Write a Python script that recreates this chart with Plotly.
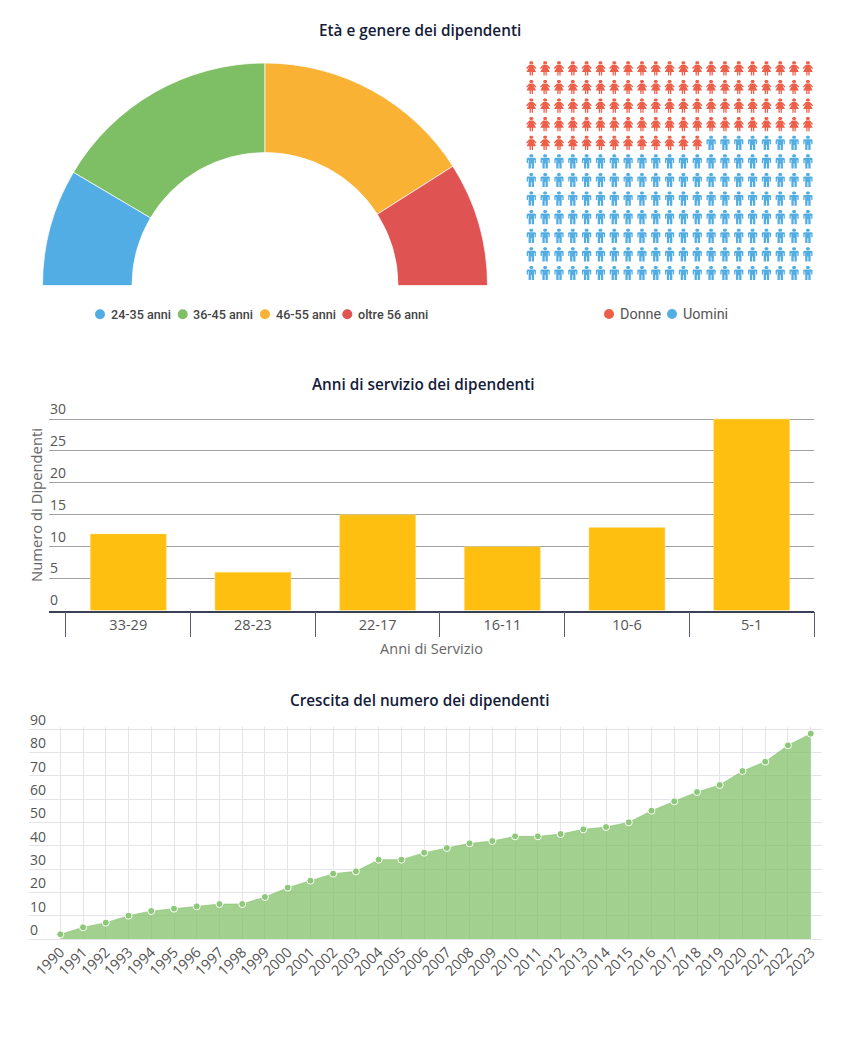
import plotly.graph_objects as go

W, H = 848, 1040

# ---------- data ----------
age_labels = ["24-35 anni", "36-45 anni", "46-55 anni", "oltre 56 anni"]
age_values = [17, 33, 32, 18]
age_colors = ["#52ADE5", "#7EBE64", "#F9B233", "#DF5353"]

gender_labels = ["Donne", "Uomini"]
gender_counts = [97, 155]
gender_colors = ["#EE5F4A", "#52ADE2"]
waffle_columns = 21

service_labels = ["33-29", "28-23", "22-17", "16-11", "10-6", "5-1"]
service_values = [12, 6, 15, 10, 13, 30]

growth_years = list(range(1990, 2024))
growth_values = [2, 5, 7, 10, 12, 13, 14, 15, 15, 18, 22, 25, 28, 29, 34, 34, 37,
                 39, 41, 42, 44, 44, 45, 47, 48, 50, 55, 59, 63, 66, 72, 76, 83, 88]

y_ticks_service = [0, 5, 10, 15, 20, 25, 30]
y_ticks_growth = [0, 10, 20, 30, 40, 50, 60, 70, 80, 90]

# ---------- helpers ----------
def dx(a, b):
    return [a / W, b / W]

def dy(top, bottom):
    return [1 - bottom / H, 1 - top / H]

def tick_text(vals):
    # figure space keeps one-digit labels flush left with the two-digit ones
    return [str(v) if v >= 10 else str(v) + "\u2007" for v in vals]

HEAD = [(-1.0, 7.0), (1.0, 7.0), (2.0, 6.0), (2.0, 5.0), (1.0, 4.0), (-1.0, 4.0), (-2.0, 5.0), (-2.0, 6.0)]
MAN = [(-4.6, 2.9), (-3.4, 3.5), (3.4, 3.5), (4.6, 2.9), (4.6, -1.6), (3.3, -1.6), (3.3, 1.4), (2.7, 1.4),
       (2.7, -7.2), (0.4, -7.2), (0.4, -2.2), (-0.4, -2.2), (-0.4, -7.2), (-2.7, -7.2), (-2.7, 1.4),
       (-3.3, 1.4), (-3.3, -1.6), (-4.6, -1.6)]
WOMAN = [(-2.0, 3.5), (2.0, 3.5), (5.2, 0.2), (4.2, -0.7), (2.1, 1.3), (4.8, -3.6), (1.7, -3.6), (1.7, -7.2),
         (0.4, -7.2), (0.4, -3.6), (-0.4, -3.6), (-0.4, -7.2), (-1.7, -7.2), (-1.7, -3.6), (-4.8, -3.6),
         (-2.1, 1.3), (-4.2, -0.7), (-5.2, 0.2)]
PITCH_X, PITCH_Y = 13.83, 18.6

def icons(start, count, body):
    xs, ys = [], []
    for i in range(start, start + count):
        row, col = divmod(i, waffle_columns)
        for shape in (HEAD, body):
            for px, py in shape + shape[:1]:
                xs.append(col + px / PITCH_X)
                ys.append(row - py / PITCH_Y)
            xs.append(None)
            ys.append(None)
    return xs, ys

fig = go.Figure()

# ---------- half doughnut ----------
cx, cy, r = 265, 285.5, 222.5
fig.add_trace(go.Pie(
    labels=age_labels + [""],
    values=age_values + [sum(age_values)],
    marker=dict(colors=age_colors + ["rgba(0,0,0,0)"],
                line=dict(color=["#ffffff"] * 4 + ["rgba(0,0,0,0)"], width=0.7)),
    hole=133 / 222.5, rotation=270, direction="clockwise", sort=False,
    textinfo="none", hoverinfo="skip", showlegend=False,
    domain=dict(x=dx(cx - r, cx + r), y=dy(cy - r, cy + r)),
))

# ---------- waffle ----------
xw, yw = icons(0, gender_counts[0], WOMAN)
fig.add_trace(go.Scatter(x=xw, y=yw, mode="lines", fill="toself", fillcolor=gender_colors[0],
                         line=dict(width=0, color=gender_colors[0]), xaxis="x3", yaxis="y3",
                         showlegend=False, hoverinfo="skip"))
xm, ym = icons(gender_counts[0], gender_counts[1], MAN)
fig.add_trace(go.Scatter(x=xm, y=ym, mode="lines", fill="toself", fillcolor=gender_colors[1],
                         line=dict(width=0, color=gender_colors[1]), xaxis="x3", yaxis="y3",
                         showlegend=False, hoverinfo="skip"))

# ---------- bars ----------
fig.add_trace(go.Bar(x=service_labels, y=service_values, width=0.61, xaxis="x", yaxis="y",
                     marker=dict(color="#FFBF10", line=dict(color="#FFE08A", width=0.5)),
                     showlegend=False))

# ---------- area ----------
fig.add_trace(go.Scatter(x=growth_years, y=growth_values, mode="lines+markers", fill="tozeroy",
                         fillcolor="rgba(126,190,100,0.72)",
                         line=dict(color="rgba(126,190,100,0.5)", width=1),
                         marker=dict(color="#8CC878", size=7, line=dict(color="#ffffff", width=1)),
                         xaxis="x2", yaxis="y2", showlegend=False))

# ---------- custom legends on a page-sized overlay axis ----------
legend_xs = [100, 182.7, 265, 347.3]
for lab, col, x0 in zip(age_labels, age_colors, legend_xs):
    fig.add_trace(go.Scatter(x=[x0], y=[314.3], mode="markers", marker=dict(color=col, size=10),
                             xaxis="x4", yaxis="y4", showlegend=False, hoverinfo="skip"))
    fig.add_annotation(x=(x0 + 8.6) / W, y=1 - 314.3 / H, xref="paper", yref="paper", text=lab,
                       showarrow=False, xanchor="left", yanchor="middle",
                       font=dict(family="Roboto", size=12.6, color="#444444", weight=500))
for lab, col, x0 in zip(gender_labels, gender_colors, [609, 672]):
    fig.add_trace(go.Scatter(x=[x0], y=[314], mode="markers", marker=dict(color=col, size=10),
                             xaxis="x4", yaxis="y4", showlegend=False, hoverinfo="skip"))
    fig.add_annotation(x=(x0 + 9) / W, y=1 - 314 / H, xref="paper", yref="paper", text=lab,
                       showarrow=False, xanchor="left", yanchor="middle",
                       font=dict(family="Roboto", size=14.4, color="#555555", weight=400))

# ---------- titles ----------
for text, x0, y0 in [("Età e genere dei dipendenti", 420, 30),
                     ("Anni di servizio dei dipendenti", 423, 384),
                     ("Crescita del numero dei dipendenti", 419, 700)]:
    fig.add_annotation(x=x0 / W, y=1 - y0 / H, xref="paper", yref="paper", text=text, showarrow=False,
                       xanchor="center", yanchor="middle",
                       font=dict(family="Open Sans", size=15.3, color="#141C3A", weight=600))

fig.add_annotation(x=36 / W, y=1 - 505 / H, xref="paper", yref="paper", text="Numero di Dipendenti", showarrow=False,
                   textangle=-90, xanchor="center", yanchor="middle",
                   font=dict(family="Open Sans", size=14.8, color="#666666"))

tick_font = dict(family="Open Sans", size=14.5, color="#555555")
y_tick_font = dict(family="Open Sans", size=14, color="#555555")
GX0, GX1 = 1990 - (60.3 - 29) / 22.74, 2023 + (822 - 810.7) / 22.74
BAR_RANGE = [-0.636, 5.5]

# invisible trace that keeps the separator axis alive
fig.add_trace(go.Scatter(x=[-0.5, 5.5], y=[0, 0], mode="none", xaxis="x5", yaxis="y",
                         showlegend=False, hoverinfo="skip"))

fig.update_layout(
    width=W, height=H, margin=dict(l=0, r=0, t=0, b=0), paper_bgcolor="#ffffff", plot_bgcolor="rgba(0,0,0,0)",
    showlegend=False, font=dict(family="Open Sans"),
    # bars
    xaxis=dict(domain=dx(49, 814), type="category", range=BAR_RANGE, ticks="", showgrid=False,
               showline=True, linecolor="#3A4055", linewidth=2, tickfont=tick_font,
               title=dict(text="Anni di Servizio", font=dict(family="Open Sans", size=14.5, color="#666666"), standoff=11),
               automargin=False, anchor="y"),
    xaxis5=dict(domain=dx(49, 814), range=BAR_RANGE, overlaying="x", tickvals=[-0.5, 0.5, 1.5, 2.5, 3.5, 4.5, 5.5],
                ticks="outside", ticklen=25, tickwidth=1, tickcolor="#5A5F70", showticklabels=False, showgrid=False,
                zeroline=False, side="bottom", anchor="y"),
    yaxis=dict(domain=dy(417, 610.5), range=[0, 30.313], tickvals=y_ticks_service, ticktext=tick_text(y_ticks_service),
               showgrid=True, gridcolor="#A0A0A0", gridwidth=1, zeroline=False, ticks="", ticklabelshift=-10,
               ticklabelstandoff=-18, tickfont=y_tick_font, automargin=False, anchor="x"),
    # area
    xaxis2=dict(domain=dx(29, 822), range=[GX0, GX1], tickvals=growth_years, ticktext=[str(v) for v in growth_years],
                tickangle=-45, showgrid=True, gridcolor="#E4E4EA", gridwidth=1, zeroline=False, ticks="",
                tickfont=tick_font, automargin=False, anchor="y2"),
    yaxis2=dict(domain=dy(727, 940), range=[-0.43, 90.857], tickvals=y_ticks_growth, ticktext=tick_text(y_ticks_growth),
                showgrid=True, gridcolor="#E4E4EA", gridwidth=1, zeroline=False, ticks="", ticklabelshift=-9,
                ticklabelstandoff=-18, tickfont=y_tick_font, automargin=False, anchor="x2"),
    # waffle
    xaxis3=dict(domain=dx(524, 816), range=[(524 - 531.3) / PITCH_X, (816 - 531.3) / PITCH_X], visible=False, anchor="y3"),
    yaxis3=dict(domain=dy(58, 284), range=[(284 - 68.3) / PITCH_Y, (58 - 68.3) / PITCH_Y], visible=False, anchor="x3"),
    # page-sized overlay used for legend dots
    xaxis4=dict(domain=[0, 1], range=[0, W], visible=False, anchor="y4"),
    yaxis4=dict(domain=[0, 1], range=[H, 0], visible=False, anchor="x4"),
)

fig.write_html("out.html", config={"displayModeBar": False}, post_script="document.body.style.margin='0';")
